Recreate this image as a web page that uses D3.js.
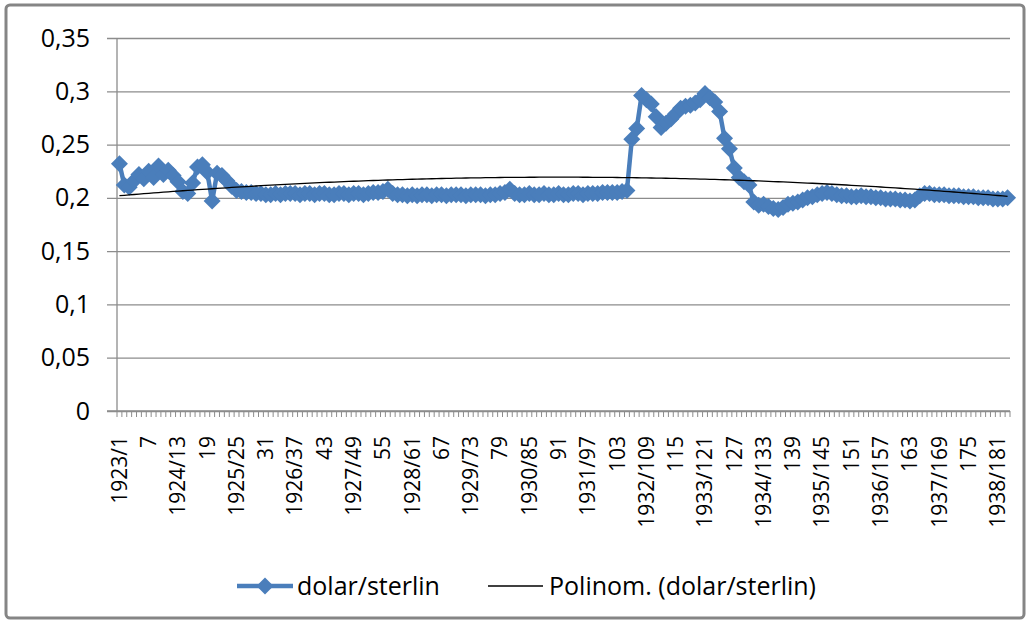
<!DOCTYPE html>
<html>
<head>
<meta charset="utf-8">
<script src="https://cdn.jsdelivr.net/npm/d3@7"></script>
<style>
body { margin: 0; background: #fff; }
text { font-family: 'Open Sans', sans-serif; fill: #000; }
</style>
</head>
<body>
<script>
// dolar/sterlin, monthly 1923/1 .. 1938
var rate = [
	0.232, 0.212, 0.210, 0.216, 0.222, 0.218, 0.225, 0.219, 0.230, 0.222,
	0.226, 0.221, 0.215, 0.206, 0.204, 0.214, 0.229, 0.231, 0.224, 0.197,
	0.223, 0.221, 0.216, 0.211, 0.207,
	0.206, 0.205, 0.205, 0.204, 0.204, 0.203, 0.203, 0.204, 0.203, 0.204,
	0.204, 0.204, 0.203, 0.204, 0.204, 0.203, 0.204, 0.204, 0.203, 0.203,
	0.204, 0.204, 0.203, 0.204, 0.204, 0.203, 0.204, 0.205, 0.205, 0.206,
	0.208, 0.204, 0.203, 0.203, 0.202, 0.203, 0.202, 0.203, 0.203, 0.202,
	0.203, 0.203, 0.202, 0.203, 0.203, 0.203, 0.202, 0.203, 0.203, 0.203,
	0.202, 0.203, 0.203, 0.204, 0.205,
	0.208, 0.204, 0.203, 0.203, 0.204, 0.203, 0.203, 0.204, 0.203, 0.203,
	0.204, 0.203, 0.203, 0.204, 0.204, 0.203, 0.204, 0.204, 0.204, 0.205,
	0.205, 0.205, 0.205, 0.206, 0.207,
	0.255, 0.265, 0.296, 0.292, 0.288, 0.276, 0.266, 0.270, 0.274, 0.279,
	0.284, 0.286, 0.287, 0.289, 0.292, 0.298, 0.294, 0.290, 0.281, 0.256,
	0.246, 0.228, 0.219, 0.215, 0.212,
	0.196, 0.193, 0.194, 0.192, 0.190, 0.189, 0.191, 0.194, 0.195, 0.196,
	0.198, 0.200, 0.201, 0.203, 0.204, 0.205, 0.204, 0.203, 0.202, 0.202,
	0.201, 0.201, 0.202, 0.201, 0.201,
	0.200, 0.200, 0.199, 0.199, 0.199, 0.198, 0.198, 0.197, 0.198, 0.202,
	0.204, 0.204, 0.203, 0.203, 0.203, 0.202, 0.202, 0.202, 0.201, 0.201,
	0.201, 0.200, 0.200, 0.200, 0.199, 0.199, 0.199, 0.200
];

var yTicks = [0, 0.05, 0.1, 0.15, 0.2, 0.25, 0.3, 0.35];

// shown on every 6th month, starting at month 1
var tickLabels = ['1923/1', '7', '1924/13', '19', '1925/25', '31', '1926/37', '43',
	'1927/49', '55', '1928/61', '67', '1929/73', '79', '1930/85', '91', '1931/97',
	'103', '1932/109', '115', '1933/121', '127', '1934/133', '139', '1935/145',
	'151', '1936/157', '163', '1937/169', '175', '1938/181'];

var seriesName = 'dolar/sterlin';
var trendName = 'Polinom. (dolar/sterlin)';

var months = d3.range(1, rate.length + 1);
var data = months.map(function(m, i) { return {m: m, v: rate[i]}; });

// polynomial trend (order 2), least squares like Excel
function polyfit(xs, ys) {
	var c = d3.mean(xs), s = (d3.max(xs) - d3.min(xs)) / 2;
	var S = [0, 0, 0, 0, 0], T = [0, 0, 0];
	xs.forEach(function(x, i) {
		var t = (x - c) / s, p = 1;
		for (var k = 0; k < 5; k++) { S[k] += p; if (k < 3) T[k] += p * ys[i]; p *= t; }
	});
	var A = [[S[0], S[1], S[2], T[0]], [S[1], S[2], S[3], T[1]], [S[2], S[3], S[4], T[2]]];
	for (var i = 0; i < 3; i++) {
		for (var j = i + 1; j < 3; j++) {
			var f = A[j][i] / A[i][i];
			for (var k = i; k < 4; k++) A[j][k] -= f * A[i][k];
		}
	}
	var b = [0, 0, 0];
	for (var i = 2; i >= 0; i--) {
		var sum = A[i][3];
		for (var k = i + 1; k < 3; k++) sum -= A[i][k] * b[k];
		b[i] = sum / A[i][i];
	}
	return function(x) { var t = (x - c) / s; return b[0] + b[1] * t + b[2] * t * t; };
}
var trend = polyfit(months, rate);

var width = 1030, height = 624;
var margin = {top: 38, right: 20, bottom: 213, left: 117};

var svg = d3.select('body').append('svg')
	.attr('width', width)
	.attr('height', height);

// chart frame
svg.append('rect')
	.attr('x', 6).attr('y', 5)
	.attr('width', 1018).attr('height', 613)
	.attr('rx', 4)
	.style('fill', '#fff')
	.style('stroke', '#858585')
	.style('stroke-width', 3);

var x = d3.scaleBand()
	.domain(months)
	.range([margin.left, width - margin.right]);

var y = d3.scaleLinear()
	.domain([0, 0.35])
	.range([height - margin.bottom, margin.top]);

function cx(m) { return x(m) + x.bandwidth() / 2; }

// y gridlines + labels
var yAxis = d3.axisLeft(y)
	.tickValues(yTicks)
	.tickSize(-(width - margin.right - margin.left) - 10)
	.tickPadding(17)
	.tickFormat(function(d) { return d3.format('~g')(d).replace('.', ','); });

var gy = svg.append('g')
	.attr('transform', 'translate(' + (margin.left - 10) + ',0)')
	.call(yAxis);
gy.select('.domain').remove();
gy.selectAll('line')
	.attr('x1', 0).attr('x2', width - margin.right - margin.left + 10)
	.style('stroke', '#8c8c8c')
	.style('stroke-width', 1.3);
gy.selectAll('text')
	.attr('x', -17)
	.style('font-size', '25px')
	.style('font-family', "'Open Sans', sans-serif");

// vertical axis line
svg.append('line')
	.attr('x1', margin.left).attr('x2', margin.left)
	.attr('y1', y(0.35)).attr('y2', y(0))
	.style('stroke', '#8c8c8c')
	.style('stroke-width', 1.3);

// x axis: line, minor ticks at category boundaries, labels every 6th
var y0 = y(0);
svg.append('line')
	.attr('x1', margin.left - 10).attr('x2', width - margin.right)
	.attr('y1', y0).attr('y2', y0)
	.style('stroke', '#8c8c8c')
	.style('stroke-width', 1.3);

svg.append('g').selectAll('line')
	.data(months.concat([rate.length + 1]))
	.enter().append('line')
	.attr('x1', function(m) { return m <= rate.length ? x(m) : x(rate.length) + x.bandwidth(); })
	.attr('x2', function(m) { return m <= rate.length ? x(m) : x(rate.length) + x.bandwidth(); })
	.attr('y1', y0).attr('y2', y0 + 6)
	.style('stroke', '#8c8c8c')
	.style('stroke-width', 1);

svg.append('g').selectAll('text')
	.data(tickLabels)
	.enter().append('text')
	.attr('transform', function(d, i) {
		return 'translate(' + cx(1 + i * 6) + ',' + (y0 + 25) + ') rotate(-90)';
	})
	.attr('dy', '0.35em')
	.attr('text-anchor', 'end')
	.style('font-size', '21px')
	.text(function(d) { return d; });

// series
var line = d3.line()
	.x(function(d) { return cx(d.m); })
	.y(function(d) { return y(d.v); });

var blue = '#4a7ebb';
svg.append('path')
	.datum(data)
	.attr('d', line)
	.style('fill', 'none')
	.style('stroke', blue)
	.style('stroke-width', 4.5)
	.style('stroke-linejoin', 'round');

var diamond = 'M0,-8.5L8.5,0L0,8.5L-8.5,0Z';
svg.append('g').selectAll('path')
	.data(data)
	.enter().append('path')
	.attr('d', diamond)
	.attr('transform', function(d) { return 'translate(' + cx(d.m) + ',' + y(d.v) + ')'; })
	.style('fill', blue);

// trend line
svg.append('path')
	.datum(months)
	.attr('d', d3.line()
		.x(function(m) { return cx(m); })
		.y(function(m) { return y(trend(m)); }))
	.style('fill', 'none')
	.style('stroke', '#000')
	.style('stroke-width', 1.3);

// legend
var ly = 586;
var legend = svg.append('g');
legend.append('line')
	.attr('x1', 237).attr('x2', 293)
	.attr('y1', ly).attr('y2', ly)
	.style('stroke', blue).style('stroke-width', 4.5);
legend.append('path')
	.attr('d', diamond)
	.attr('transform', 'translate(265,' + ly + ')')
	.style('fill', blue);
legend.append('text')
	.attr('x', 297).attr('y', ly + 9)
	.style('font-size', '25px')
	.text(seriesName);

legend.append('line')
	.attr('x1', 488).attr('x2', 543)
	.attr('y1', ly).attr('y2', ly)
	.style('stroke', '#000').style('stroke-width', 1.3);
legend.append('text')
	.attr('x', 549).attr('y', ly + 9)
	.style('font-size', '25px')
	.text(trendName);
</script>
</body>
</html>
